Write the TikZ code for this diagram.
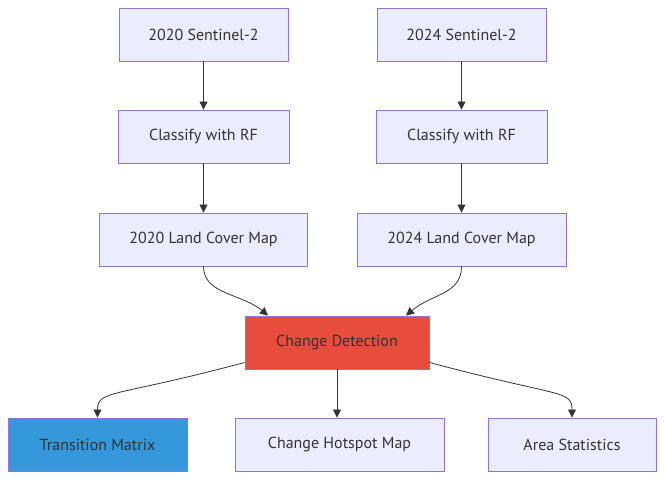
\documentclass[tikz,border=0pt]{standalone}
\usepackage{fontspec}
\setmainfont{PT Sans}
\usetikzlibrary{arrows.meta}
\definecolor{boxfill}{HTML}{ECECFF}
\definecolor{boxline}{HTML}{9370DB}
\definecolor{txt}{HTML}{333333}
\definecolor{redfill}{HTML}{E74C3C}
\definecolor{bluefill}{HTML}{3498DB}
\tikzset{
  box/.style={draw=boxline, fill=boxfill, line width=0.9pt, text=txt, font=\fontsize{16}{18}\selectfont, minimum height=53pt, inner sep=0pt, anchor=center},
  link/.style={draw=txt, line width=0.8pt, -{Triangle[length=8pt,width=8pt]}},
}
\begin{document}
\begin{tikzpicture}[x=1pt,y=-1pt]
\useasboundingbox (0,0) rectangle (665,486);
\node[box, minimum width=169pt] (s20) at (203.5,34.5) {2020 Sentinel-2};
\node[box, minimum width=169pt] (s24) at (461.5,34.5) {2024 Sentinel-2};
\node[box, minimum width=171pt] (c20) at (203.5,136.5) {Classify with RF};
\node[box, minimum width=171pt] (c24) at (461.5,136.5) {Classify with RF};
\node[box, minimum width=208pt] (m20) at (203.5,239.5) {2020 Land Cover Map};
\node[box, minimum width=209pt] (m24) at (461.5,239.5) {2024 Land Cover Map};
\node[box, fill=redfill, minimum width=184pt] (cd) at (337,342.5) {Change Detection};
\node[box, fill=bluefill, minimum width=179pt] (tm) at (97.5,444.5) {Transition Matrix};
\node[box, minimum width=209pt] (hs) at (339.5,444.5) {Change Hotspot Map};
\node[box, minimum width=168pt] (as) at (572,444.5) {Area Statistics};
\draw[link] (s20) -- (c20);
\draw[link] (s24) -- (c24);
\draw[link] (c20) -- (m20);
\draw[link] (c24) -- (m24);
\draw[link] (m20.south) .. controls ([yshift=-28]m20.south) and ([xshift=-95,yshift=22]cd.north) .. ([xshift=-69]cd.north);
\draw[link] (m24.south) .. controls ([yshift=-28]m24.south) and ([xshift=95,yshift=22]cd.north) .. ([xshift=69]cd.north);
\draw[link] ([yshift=7]cd.south west) .. controls ([xshift=-130,yshift=-28]cd.south west) and ([yshift=28]tm.north) .. (tm.north);
\draw[link] ([yshift=7]cd.south east) .. controls ([xshift=130,yshift=-28]cd.south east) and ([yshift=28]as.north) .. (as.north);
\draw[link] (cd.south) -- (cd.south |- hs.north);
\end{tikzpicture}
\end{document}
